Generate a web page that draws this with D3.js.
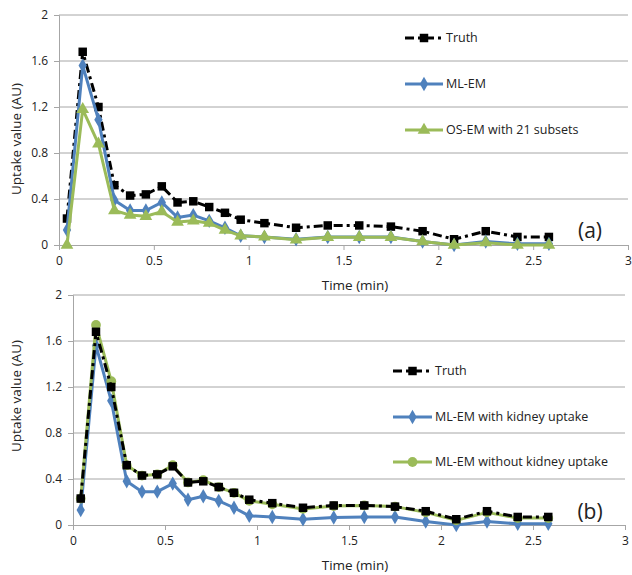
<!doctype html>
<html>
<head>
<meta charset="utf-8">
<title>uptake curves</title>
<script src="https://d3js.org/d3.v7.min.js"></script>
<style>
  body { margin: 0; background: #fff; }
  text { font-family: "Open Sans", sans-serif; fill: #222; }
</style>
</head>
<body>
<script>
// frame mid times (min)
var times = [0.042, 0.125, 0.208, 0.292, 0.375, 0.458, 0.542, 0.625, 0.708, 0.792, 0.875, 0.958,
             1.083, 1.25, 1.417, 1.583, 1.75, 1.917, 2.083, 2.25, 2.417, 2.583];
var truth = [0.23, 1.68, 1.20, 0.52, 0.43, 0.44, 0.51, 0.37, 0.38, 0.33, 0.28, 0.22,
             0.19, 0.15, 0.17, 0.17, 0.16, 0.12, 0.05, 0.12, 0.07, 0.07];
var mlem = [0.13, 1.56, 1.09, 0.39, 0.30, 0.30, 0.37, 0.24, 0.26, 0.21, 0.15, 0.08,
            0.07, 0.05, 0.07, 0.07, 0.07, 0.03, 0.00, 0.03, 0.01, 0.01];
var osem21 = [0.00, 1.18, 0.88, 0.30, 0.26, 0.25, 0.29, 0.20, 0.21, 0.19, 0.13, 0.08,
              0.07, 0.045, 0.067, 0.067, 0.067, 0.03, 0.00, 0.02, 0.00, 0.00];
var mlemKidney = [0.13, 1.56, 1.08, 0.38, 0.29, 0.29, 0.36, 0.22, 0.25, 0.21, 0.15, 0.08,
                  0.07, 0.05, 0.065, 0.07, 0.07, 0.03, 0.00, 0.03, 0.01, 0.01];
var mlemNoKidney = [0.23, 1.74, 1.25, 0.52, 0.43, 0.44, 0.52, 0.37, 0.39, 0.33, 0.28, 0.21,
                    0.18, 0.14, 0.165, 0.17, 0.16, 0.11, 0.04, 0.11, 0.06, 0.06];
var yTicks = [0, 0.4, 0.8, 1.2, 1.6, 2];
var xTicks = [0, 0.5, 1, 1.5, 2, 2.5, 3];

var blue = "#4f81bd", green = "#9bbb59";

var svg = d3.select("body").append("svg")
    .attr("width", 632).attr("height", 575);

var symbols = {
    square: d3.symbol().type(d3.symbolSquare).size(72),
    diamond: d3.symbol().type(d3.symbolDiamond).size(60),
    triangle: d3.symbol().type(d3.symbolTriangle).size(70),
    circle: d3.symbol().type(d3.symbolCircle).size(75)
};

function drawPanel(p) {
    var x = d3.scaleLinear().domain([0, 3]).range([p.left, p.right]);
    var y = d3.scaleLinear().domain([0, 2]).range([p.bottom, p.top]);
    var g = svg.append("g");

    // gridlines
    g.selectAll("line.grid").data(yTicks.slice(1)).enter().append("line")
        .attr("x1", p.left).attr("x2", p.right)
        .attr("y1", d => y(d)).attr("y2", d => y(d))
        .attr("stroke", "#a6a6a6").attr("stroke-width", 1);

    // y axis
    var ya = g.append("g").attr("transform", "translate(" + p.left + ",0)")
        .call(d3.axisLeft(y).tickValues(yTicks).tickSize(5).tickPadding(6).tickFormat(d3.format("")));
    // x axis
    var xa = g.append("g").attr("transform", "translate(0," + p.bottom + ")")
        .call(d3.axisBottom(x).tickValues(xTicks).tickSize(5).tickPadding(6).tickFormat(d3.format("")));
    [ya, xa].forEach(function(a) {
        a.select(".domain").attr("stroke", "#a6a6a6");
        a.selectAll(".tick line").attr("stroke", "#a6a6a6");
        a.selectAll(".tick text").style("font-size", "12px").attr("fill", "#333");
    });

    g.append("text")
        .attr("transform", "translate(16," + p.ytitleY + ") rotate(-90)")
        .attr("text-anchor", "middle").attr("dy", "0.35em")
        .style("font-size", "13.5px").text("Uptake value (AU)");
    g.append("text")
        .attr("x", 355).attr("y", p.xtitleY).attr("dy", "0.35em")
        .attr("text-anchor", "middle").style("font-size", "13.5px").text("Time (min)");
    g.append("text")
        .attr("x", 590).attr("y", p.tagY).attr("dy", "0.35em")
        .attr("text-anchor", "middle").style("font-size", "21px").text(p.tag);

    var line = d3.line().x((d, i) => x(times[i])).y(d => y(d));

    p.series.forEach(function(s) {
        g.append("path").datum(s.values)
            .attr("d", line).attr("fill", "none")
            .attr("stroke", s.color).attr("stroke-width", 3)
            .attr("stroke-dasharray", s.dash || null)
            .attr("stroke-linejoin", "round");
        g.selectAll(null).data(s.values).enter().append("path")
            .attr("d", symbols[s.symbol])
            .attr("transform", (d, i) => "translate(" + x(times[i]) + "," + y(d) + ")")
            .attr("fill", s.color);
    });

    // legend
    p.legend.forEach(function(s, k) {
        var ly = p.legendY[k];
        g.append("line")
            .attr("x1", p.legX).attr("x2", p.legX + p.legW)
            .attr("y1", ly).attr("y2", ly)
            .attr("stroke", s.color).attr("stroke-width", 3)
            .attr("stroke-dasharray", s.dash || null);
        g.append("path").attr("d", symbols[s.symbol])
            .attr("transform", "translate(" + (p.legX + p.legW / 2) + "," + ly + ")")
            .attr("fill", s.color);
        g.append("text").attr("x", p.legX + p.legW + 3).attr("y", ly).attr("dy", "0.35em")
            .style("font-size", "12.5px").text(s.name);
    });
}

var truthSeries = {name: "Truth", values: truth, color: "#000", symbol: "square", dash: "9,4,3,4"};

// panel (a)
var a = {
    left: 59, right: 628, top: 15, bottom: 245,
    ytitleY: 139, xtitleY: 285, tag: "(a)", tagY: 231,
    legX: 405, legW: 38, legendY: [38, 84, 130],
    series: [
        truthSeries,
        {name: "ML-EM", values: mlem, color: blue, symbol: "diamond"},
        {name: "OS-EM with 21 subsets", values: osem21, color: green, symbol: "triangle"}
    ]
};
a.legend = a.series;
drawPanel(a);

// panel (b)
var bSeries = [
    truthSeries,
    {name: "ML-EM with kidney uptake", values: mlemKidney, color: blue, symbol: "diamond"},
    {name: "ML-EM without kidney uptake", values: mlemNoKidney, color: green, symbol: "circle"}
];
drawPanel({
    left: 73, right: 625, top: 295, bottom: 525,
    ytitleY: 396, xtitleY: 565, tag: "(b)", tagY: 512,
    legX: 393, legW: 39, legendY: [371, 417, 462],
    series: [bSeries[1], bSeries[2], bSeries[0]],
    legend: bSeries
});
</script>
</body>
</html>
